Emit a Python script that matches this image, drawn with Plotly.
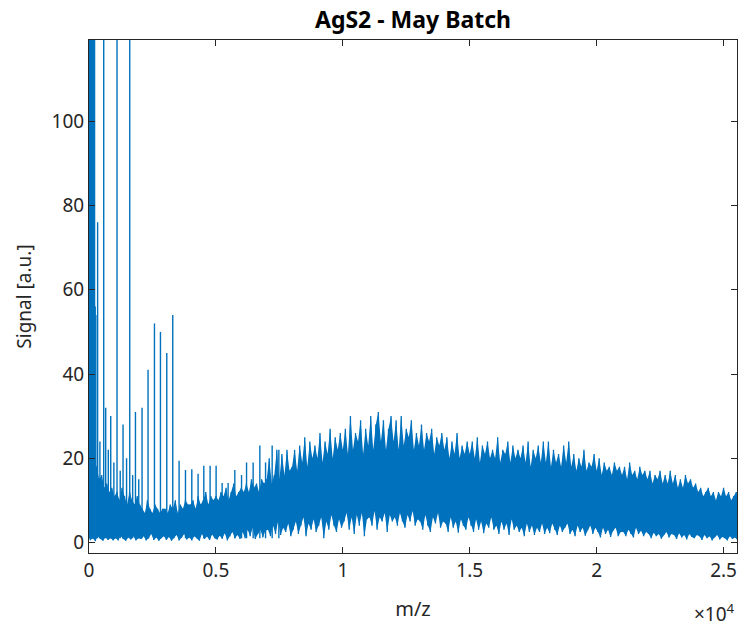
import numpy as np
import plotly.graph_objects as go

# ---------------- data ----------------
# Dense background signal, sampled every 100 m/z starting at 0
band_start = 0
band_step = 100
band_upper = [
    24, 22, 20, 18, 15, 16, 13, 14, 12, 13,
    11, 12, 10, 13, 11, 9, 12, 10, 9, 11,
    9, 8, 7, 10, 8, 7, 9, 8, 7, 8,
    8, 7, 9, 8, 10, 7, 9, 8, 10, 9,
    9, 10, 8, 11, 9, 10, 12, 9, 11, 10,
    11, 10, 12, 11, 13, 10, 12, 14, 11, 12,
    13, 12, 14, 12, 15, 13, 14, 12, 15, 14,
    15, 20, 14, 16, 22, 15, 21, 16, 22, 17,
    18, 22, 17, 23, 19, 25, 18, 24, 20, 23,
    20, 26, 19, 24, 21, 27, 20, 25, 22, 26,
    22, 27, 21, 30, 22, 26, 24, 29, 21, 27,
    23, 30, 22, 28, 31, 24, 29, 22, 27, 30,
    24, 29, 22, 30, 23, 27, 25, 29, 22, 26,
    23, 28, 22, 26, 24, 27, 21, 25, 23, 26,
    22, 25, 20, 24, 21, 26, 20, 23, 21, 24,
    21, 24, 20, 25, 19, 23, 21, 24, 20, 22,
    20, 25, 19, 22, 21, 24, 19, 23, 20, 22,
    20, 23, 19, 24, 18, 22, 20, 23, 19, 24,
    19, 24, 18, 22, 19, 21, 18, 23, 19, 24,
    18, 21, 17, 20, 18, 22, 17, 19, 18, 21,
    17, 20, 16, 19, 17, 18, 16, 19, 17, 18,
    16, 18, 15, 19, 16, 17, 15, 18, 16, 17,
    15, 17, 14, 16, 15, 17, 14, 16, 14, 17,
    14, 16, 13, 15, 13, 16, 14, 15, 13, 14,
    12, 13, 11, 12, 13, 11, 12, 10, 12, 11,
    13, 11, 12, 10, 11, 12,
]
band_lower = [
    0.5, 1, 0.3, 1.5, 0.8, 0.4, 1.2, 0.6, 1, 0.5,
    1, 0.5, 1.5, 0.8, 0.4, 1.2, 0.7, 1.5, 0.5, 1,
    0.8, 1.5, 0.5, 1, 2, 0.6, 1.2, 0.4, 1, 1.5,
    0.6, 1.3, 0.4, 1, 1.8, 0.5, 1.1, 2, 0.7, 1.2,
    0.5, 1.5, 1, 0.4, 2, 0.8, 1.4, 0.6, 1.9, 1,
    0.7, 1.6, 0.9, 2.2, 0.5, 1.4, 2.5, 1, 1.8, 0.8,
    2.5, 1, 3, 1.5, 3.5, 0.8, 2, 3, 1.2, 2.8,
    3, 1.5, 4, 2, 5, 1.8, 3.5, 2.5, 4.5, 1.5,
    3, 5, 2, 4, 6, 1.5, 4.5, 3, 5.5, 2.5,
    4, 6, 1, 5, 3, 6.5, 4, 2.5, 5.5, 3.5,
    5, 7, 3, 6, 2, 6.5, 4, 7, 1.5, 5.5,
    6, 4, 7.5, 3, 6, 5, 7, 2.5, 6.5, 5,
    6, 4, 7, 5, 3.5, 6.5, 5, 7.5, 4, 5.5,
    5, 3, 6.5, 4, 2.5, 6, 4.5, 7, 3.5, 5,
    4.5, 2.5, 6, 3.5, 5, 2.3, 5.5, 4, 3, 6,
    4, 2.5, 5.5, 3, 5, 2.2, 4.5, 3.5, 6, 3,
    4, 2, 5, 3, 4.5, 1.8, 5.5, 3, 4, 2.5,
    3.5, 1.5, 4.5, 2.5, 4, 1.8, 3.5, 2.5, 4.5, 2,
    3.5, 2.2, 4.5, 3, 1.8, 4, 2.5, 3.5, 4.5, 2,
    3, 1.5, 4, 2.5, 3.5, 1.6, 3, 4, 2, 3.5,
    2.5, 1.2, 3.5, 2, 3, 1.3, 2.8, 3.5, 1.5, 2.5,
    2.5, 1.5, 3, 2, 1.2, 3.5, 2, 2.8, 1.5, 2.5,
    2, 1, 2.3, 1.5, 2, 0.9, 1.8, 2.5, 1.2, 2,
    1.8, 0.8, 2.2, 1.2, 1.8, 0.7, 2, 1.3, 1, 1.8,
    1.5, 0.6, 1.8, 1, 1.5, 0.5, 1.2, 1.8, 0.7, 1.3,
    1, 0.5, 1.5, 0.8, 1.2, 0.6,
]

# Discrete peaks (m/z, intensity) at the low-mass end
peak_mz = [0, 20, 40, 60, 80, 100, 120, 140, 160, 180, 200, 220,
           245, 270, 340, 430, 580, 658, 760, 856, 980, 1104, 1230, 1341,
           1480, 1605, 1720, 1830, 1960, 2090, 2326, 2579, 2815, 3064, 3300,
           3549, 3801, 4050, 4298, 4523, 4771, 5008, 5245, 5481, 5745,
           6010, 6207, 6467, 6731, 6956, 7216, 7480]
peak_height = [150, 200, 170, 240, 160, 190, 150, 210, 140, 180, 130, 125,
               56, 54, 76, 24, 160, 32, 22, 30, 19, 170, 17, 28,
               20, 150, 16, 31, 15, 32, 41, 52, 50, 45, 54,
               19.4, 17.2, 17.4, 16.3, 18.2, 18.2, 18.2, 14.1, 14.1, 17.2,
               16, 19, 19, 23, 19, 23, 22]
peak_base = 1

x_tickvals = [0, 5000, 10000, 15000, 20000, 25000]
x_ticktext = ["0", "0.5", "1", "1.5", "2", "2.5"]
y_tickvals = [0, 20, 40, 60, 80, 100]

# ---------------- build traces ----------------
mz = band_start + band_step * np.arange(len(band_upper))
mz_low = mz + band_step / 2
bx = np.empty(2 * len(mz))
by = np.empty(2 * len(mz))
bx[0::2] = mz
bx[1::2] = mz_low
by[0::2] = band_upper
by[1::2] = band_lower

px, py = [], []
for m, h in zip(peak_mz, peak_height):
    px += [m, m, None]
    py += [peak_base, h, None]

blue = "#0072BD"
ink = "#262626"
fig = go.Figure()
# solid core of the dense signal: area between the lower and upper readings
fig.add_trace(go.Scatter(x=mz_low, y=band_lower, mode="lines",
                         line=dict(color=blue, width=0), hoverinfo="skip"))
fig.add_trace(go.Scatter(x=mz, y=band_upper, mode="lines", fill="tonexty",
                         fillcolor=blue, line=dict(color=blue, width=0),
                         hoverinfo="skip"))
# the signal trace itself
fig.add_trace(go.Scatter(x=bx, y=by, mode="lines",
                         line=dict(color=blue, width=1.3), hoverinfo="skip"))
fig.add_trace(go.Scatter(x=px, y=py, mode="lines",
                         line=dict(color=blue, width=1.4), hoverinfo="skip"))

axis_common = dict(showline=True, linecolor=ink, linewidth=1, mirror="ticks",
                   ticks="inside", ticklen=6, tickcolor=ink, tickwidth=1,
                   showgrid=False, zeroline=False, automargin=False,
                   tickfont=dict(family="Noto Sans", size=19, color=ink))

W, H = 738, 626
fig.update_layout(
    width=W, height=H,
    margin=dict(l=89, r=1, t=40, b=73),
    paper_bgcolor="white", plot_bgcolor="white",
    showlegend=False,
    font=dict(family="Noto Sans", color=ink),
    title=dict(text="<b>AgS2 - May Batch</b>", x=413 / W, xanchor="center",
               y=1 - 20 / H, yanchor="middle",
               font=dict(family="Noto Sans", size=23, color="#000000")),
    xaxis=dict(range=[0, 25530], tickvals=x_tickvals, ticktext=x_ticktext,
               title=dict(text="m/z", font=dict(size=20, color=ink), standoff=20),
               **axis_common),
    yaxis=dict(range=[-2.5, 119.3], tickvals=y_tickvals,
               title=dict(text="Signal [a.u.]", font=dict(size=19, color=ink), standoff=14),
               **axis_common),
)
fig.add_annotation(text="×10<sup>4</sup>", xref="paper", yref="paper",
                   x=1.0, y=-0.086, xanchor="right", yanchor="top", showarrow=False,
                   font=dict(family="Noto Sans", size=19, color=ink))

# remove the browser's default 8px page margin so the figure fills the window
fig.write_html("out.html",
               config={"displayModeBar": False},
               post_script="document.body.style.margin='0';"
                           "document.body.style.overflow='hidden';")
